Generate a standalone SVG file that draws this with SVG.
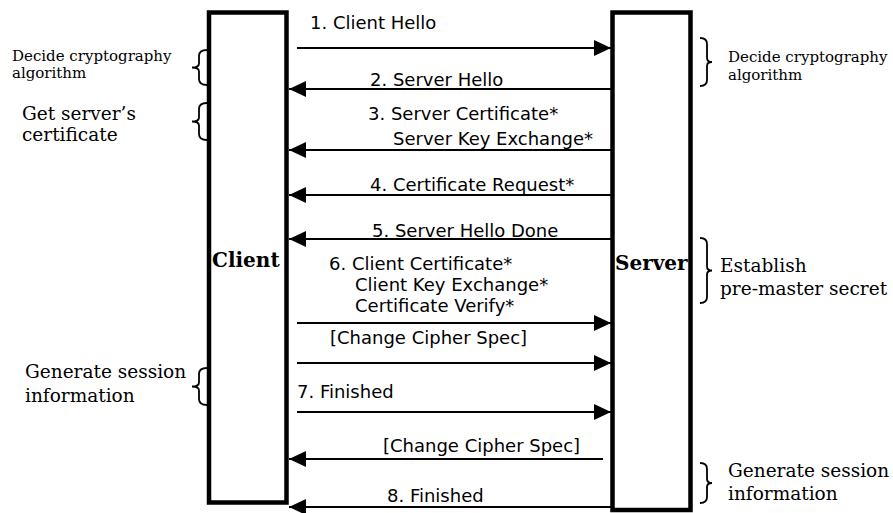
<svg xmlns="http://www.w3.org/2000/svg" width="893" height="513" viewBox="0 0 893 513">
<style>
.box{fill:#fff;stroke:#000;stroke-width:4.5}
.title{font-family:"DejaVu Serif","Liberation Serif",serif;font-weight:bold;font-size:20px;fill:#000}
.msg{font-family:"DejaVu Sans","Liberation Sans",sans-serif;font-size:18px;fill:#000}
.note{font-family:"DejaVu Serif","Liberation Serif",serif;font-size:18.5px;fill:#000}
.small{font-size:15px}
.arrow{stroke:#000;stroke-width:2;fill:none;marker-end:url(#ah)}
.brace{stroke:#000;stroke-width:1.8;fill:none}
</style>
<defs>
<marker id="ah" markerUnits="userSpaceOnUse" markerWidth="17" markerHeight="16" refX="17" refY="8" orient="auto">
<path d="M0,0 L17,8 L0,16 z" fill="#000"/>
</marker>
</defs>
<rect width="893" height="513" fill="#fff"/>
<g id="client">
<rect class="box" x="209" y="12.5" width="77.5" height="490"/>
<text class="title" x="212" y="267">Client</text>
</g>
<g id="server">
<rect class="box" x="612.5" y="12.5" width="78" height="497.5"/>
<text class="title" x="615" y="270">Server</text>
</g>
<g id="connectors">
<line class="arrow" x1="297" y1="48" x2="611" y2="48"/>
<line class="arrow" x1="611" y1="89" x2="289" y2="89"/>
<line class="arrow" x1="611" y1="150" x2="289" y2="150"/>
<line class="arrow" x1="611" y1="195" x2="289" y2="195"/>
<line class="arrow" x1="611" y1="239" x2="289" y2="239"/>
<line class="arrow" x1="297" y1="323" x2="611" y2="323"/>
<line class="arrow" x1="297" y1="363" x2="611" y2="363"/>
<line class="arrow" x1="297" y1="412" x2="611" y2="412"/>
<line class="arrow" x1="603" y1="459" x2="289" y2="459"/>
<line class="arrow" x1="611" y1="507" x2="289" y2="507"/>
</g>
<g id="labels">
<text class="msg" x="310" y="29">1. Client Hello</text>
<text class="msg" x="370" y="86">2. Server Hello</text>
<text class="msg" x="368" y="120">3. Server Certificate*</text>
<text class="msg" x="393" y="145">Server Key Exchange*</text>
<text class="msg" x="370" y="191">4. Certificate Request*</text>
<text class="msg" x="372" y="237">5. Server Hello Done</text>
<text class="msg" x="329" y="270">6. Client Certificate*</text>
<text class="msg" x="355" y="291">Client Key Exchange*</text>
<text class="msg" x="355" y="312">Certificate Verify*</text>
<text class="msg" x="330" y="344">[Change Cipher Spec]</text>
<text class="msg" x="297" y="398">7. Finished</text>
<text class="msg" x="383" y="452">[Change Cipher Spec]</text>
<text class="msg" x="387" y="502">8. Finished</text>
</g>
<g id="note-client-decide">
<path class="brace" d="M207,50 Q199,50 199,56 L199,63.5 Q199,67.5 192,67.5 Q199,67.5 199,71.5 L199,79 Q199,85 207,85"/>
<text class="note small" x="12" y="61">Decide cryptography</text>
<text class="note small" x="12" y="78">algorithm</text>
</g>
<g id="note-client-cert">
<path class="brace" d="M207,103 Q199,103 199,109 L199,117.5 Q199,121.5 192,121.5 Q199,121.5 199,125.5 L199,134 Q199,140 207,140"/>
<text class="note" x="22" y="120">Get server’s</text>
<text class="note" x="22" y="141">certificate</text>
</g>
<g id="note-client-session">
<path class="brace" d="M207,368 Q199,368 199,374 L199,382.5 Q199,386.5 192,386.5 Q199,386.5 199,390.5 L199,399 Q199,405 207,405"/>
<text class="note" x="25" y="378">Generate session</text>
<text class="note" x="25" y="402">information</text>
</g>
<g id="note-server-decide">
<path class="brace" d="M700,38 Q707,38 707,44 L707,58 Q707,62 712,62 Q707,62 707,66 L707,80 Q707,86 700,86"/>
<text class="note small" x="728" y="62">Decide cryptography</text>
<text class="note small" x="728" y="80">algorithm</text>
</g>
<g id="note-server-premaster">
<path class="brace" d="M700,238 Q707,238 707,244 L707,266.5 Q707,270.5 712,270.5 Q707,270.5 707,274.5 L707,297 Q707,303 700,303"/>
<text class="note" x="720" y="272">Establish</text>
<text class="note" x="720" y="295">pre-master secret</text>
</g>
<g id="note-server-session">
<path class="brace" d="M700,463 Q707,463 707,469 L707,479 Q707,483 712,483 Q707,483 707,487 L707,497 Q707,503 700,503"/>
<text class="note" x="728" y="477">Generate session</text>
<text class="note" x="728" y="500">information</text>
</g>
</svg>
